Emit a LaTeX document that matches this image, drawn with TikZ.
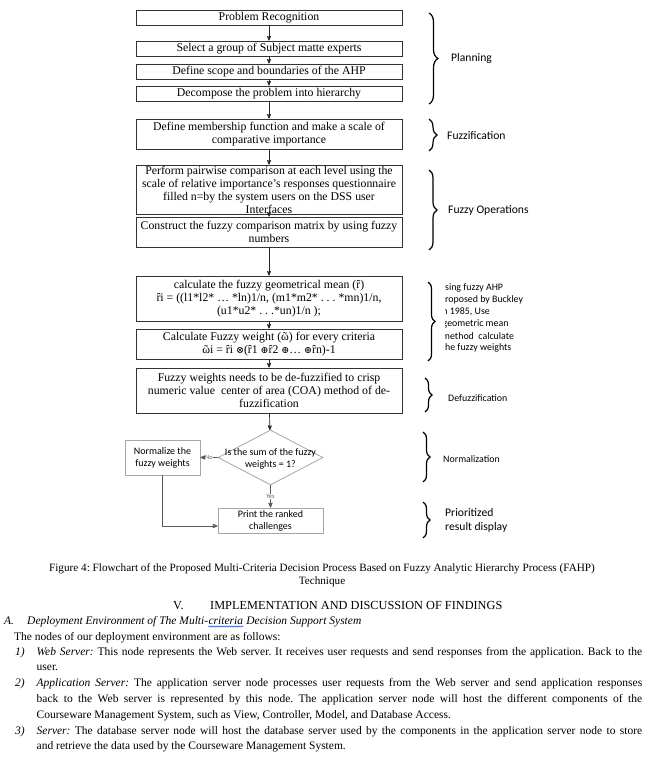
\documentclass[tikz,border=0pt]{standalone}
\usepackage{fontspec}
\setmainfont{Liberation Serif}
\newfontfamily\cali{Carlito}
\newfontfamily\symbfont{DejaVu Serif}
\usetikzlibrary{%
    arrows,shapes.geometric,%
    decorations.pathreplacing,decorations.pathmorphing
}
\frenchspacing

\tikzset{
  flowbox/.style={draw=black!80,line width=0.8pt,inner sep=0pt,minimum width=266pt,
    align=center,font=\fontsize{11.8}{13}\selectfont},
  greybox/.style={draw=black!35,line width=0.8pt,inner sep=0pt,align=center,
    font=\cali\fontsize{10}{12}\selectfont},
  flow/.style={->,>=stealth',line width=0.7pt,black!85},
  greyflow/.style={->,>=stealth',line width=0.8pt,black!65},
  phasebrace/.style={decorate,decoration={brace,amplitude=#1},line width=1.2pt},
  phase/.style={anchor=west,inner sep=0pt,font=\cali\fontsize{11.6}{14}\selectfont},
  smallphase/.style={anchor=west,inner sep=0pt,font=\cali\fontsize{9.9}{12}\selectfont},
  bodyline/.style={anchor=base west,inner sep=0pt,font=\fontsize{11.5}{16}\selectfont}
}
\newcommand{\otimesc}{{\symbfont\fontsize{9.5}{13}\selectfont ⊗}}
\newcommand{\oplusc}{{\symbfont\fontsize{9.5}{13}\selectfont ⊕}}

\begin{document}
\begin{tikzpicture}[x=1pt,y=-1pt]
\useasboundingbox[fill=white] (0,0) rectangle (665,757);

% flowchart
\node[flowbox,minimum height=15] (recog) at (269,17.5) {Problem Recognition};
\node[flowbox,minimum height=15] (experts) at (269,48.5) {Select a group of Subject matte experts};
\node[flowbox,minimum height=15] (scope) at (269,71.5) {Define scope and boundaries of the AHP};
\node[flowbox,minimum height=15] (hier) at (269,93.5) {Decompose the problem into hierarchy};
\node[flowbox,minimum height=30] (member) at (269,134) {Define membership function and make a scale of\\comparative importance};
\node[flowbox,minimum height=49,inner ysep=-4pt] (pairwise) at (269,189.5) {Perform pairwise comparison at each level using the\\scale of relative importance’s responses questionnaire\\filled n=by the system users on the DSS user\\Interfaces};
\node[flowbox,minimum height=30] (matrix) at (269,232) {Construct the fuzzy comparison matrix by using fuzzy\\numbers};
\node[flowbox,minimum height=45,inner ysep=-4pt] (geomean) at (269,298.5) {calculate the fuzzy geometrical mean (ȓ)\\ȓi = ((l1*l2* … *ln)1/n, (m1*m2* . . . *mn)1/n,\\(u1*u2* . . .*un)1/n );};
\node[flowbox,minimum height=30] (weight) at (269,344) {Calculate Fuzzy weight (ῶ) for every criteria\\ῶi = ȓi \otimesc(ȓ1 \oplusc ȓ2 \oplusc… \oplusc ȓn)-1};
\node[flowbox,minimum height=45,inner ysep=-4pt] (defuzz) at (269,390.5) {Fuzzy weights needs to be de-fuzzified to crisp\\numeric value\ \ center of area (COA) method of de-\\fuzzification};

\node[greybox,diamond,minimum width=105,minimum height=55,
  label={[align=center,font=\cali\fontsize{10}{12}\selectfont,yshift=-1.5pt]center:Is the sum of the fuzzy\\weights = 1?}] (check) at (270.5,457.5) {};
\node[greybox,minimum width=75,minimum height=35] (normal) at (162.5,457.5) {Normalize the\\fuzzy weights};
\node[greybox,minimum width=105,minimum height=25] (print) at (270.5,520.5) {Print the ranked\\challenges};

\draw[flow] (recog)--(experts);
\draw[flow] (experts)--(scope);
\draw[flow] (scope)--(hier);
\draw[flow] (hier)--(member);
\draw[flow] (member)--(pairwise);
\draw[flow] (pairwise)--(matrix);
\draw[flow] (matrix)--(geomean);
\draw[flow] (geomean)--(weight);
\draw[flow] (weight)--(defuzz);
\draw[flow] (defuzz)--(check);
\draw[greyflow] (check.west)--(normal.east) node[midway,fill=white,inner sep=0.5pt,font=\cali\fontsize{6.5}{6.5}\selectfont,text=black!60]{No};
\draw[greyflow] (check.south)--(print.north) node[midway,fill=white,inner sep=0.5pt,font=\cali\fontsize{6.5}{6.5}\selectfont,text=black!60]{Yes};
\draw[greyflow] (normal.south) |- ([yshift=-5.5pt]print.west);

% phases
\draw[phasebrace=9] (429,13)--(429,104);
\node[phase] (planning) at (451,58) {Planning};
\draw[phasebrace=8] (429,119)--(429,151);
\node[phase] (fuzzif) at (447,136) {Fuzzification};
\draw[phasebrace=8] (429,170)--(429,250);
\node[phase] (fuzzyops) at (448,210) {Fuzzy Operations};
\draw[phasebrace=7] (428,282)--(428,361);
\begin{scope}
\clip (445,278) rectangle (560,356);
\node[smallphase] (buck1) at (438.6,288) {Using fuzzy AHP};
\node[smallphase] (buck2) at (439.7,300) {proposed by Buckley};
\node[smallphase] (buck3) at (440,312) {in 1985, Use};
\node[smallphase] (buck4) at (442.5,324) {geometric mean};
\node[smallphase] (buck5) at (442,336) {method\ \ calculate};
\node[smallphase] (buck6) at (441.6,348) {the fuzzy weights};
\end{scope}
\draw[phasebrace=7] (425,378)--(425,412);
\node[smallphase] (defuzzlab) at (448,398) {Defuzzification};
\draw[phasebrace=7] (423,432)--(423,482);
\node[smallphase] (normlab) at (443,459) {Normalization};
\draw[phasebrace=7] (423,502)--(423,538);
\node[phase,align=left] (prio) at (445,520) {Prioritized\\result display};

% caption and text
\node[anchor=base,inner sep=0pt,font=\fontsize{11.2}{14}\selectfont] (caption) at (322,571) {Figure 4: Flowchart of the Proposed Multi-Criteria Decision Process Based on Fuzzy Analytic Hierarchy Process (FAHP)};
\node[anchor=base,inner sep=0pt,font=\fontsize{11.2}{14}\selectfont] (caption2) at (322,584) {Technique};
\node[bodyline,font=\fontsize{12.3}{16}\selectfont] (secnum) at (173,609) {V.};
\node[bodyline,font=\fontsize{12.3}{16}\selectfont] (sectitle) at (210,609) {IMPLEMENTATION AND DISCUSSION OF FINDINGS};
\node[bodyline,font=\itshape\fontsize{11.5}{16}\selectfont] (subnum) at (4,624) {A.};
\node[bodyline,font=\itshape\fontsize{11.5}{16}\selectfont] (subtitle) at (27,624) {Deployment Environment of The Multi-};
\node[bodyline,font=\itshape\fontsize{11.5}{16}\selectfont] (crit) at (subtitle.base east) {criteria};
\node[bodyline,font=\itshape\fontsize{11.5}{16}\selectfont] (subrest) at (crit.base east) {\ Decision Support System};
\draw[blue!70!cyan,line width=0.5pt,decorate,decoration={snake,amplitude=0.7pt,segment length=2.5pt}]
  ([yshift=-2.5pt]crit.base west)--([yshift=-2.5pt]crit.base east);

\node[bodyline] (intro) at (14,640) {The nodes of our deployment environment are as follows:};
\node[bodyline] (num1) at (15,655) {\textit{1)}};
\node[bodyline] (web) at (36.5,655) {\makebox[605.5pt][s]{\textit{Web Server:} This node represents the Web server. It receives user requests and send responses from the application. Back to the}};
\node[bodyline] (web2) at (36.5,670) {user.};
\node[bodyline] (num2) at (15,686) {\textit{2)}};
\node[bodyline] (app) at (36.5,686) {\makebox[605.5pt][s]{\textit{Application Server:} The application server node processes user requests from the Web server and send application responses}};
\node[bodyline] (app2) at (36.5,702) {\makebox[605.5pt][s]{back to the Web server is represented by this node. The application server node will host the different components of the}};
\node[bodyline] (app3) at (36.5,718) {Courseware Management System, such as View, Controller, Model, and Database Access.};
\node[bodyline] (num3) at (15,734) {\textit{3)}};
\node[bodyline] (db) at (36.5,734) {\makebox[605.5pt][s]{\textit{Server:} The database server node will host the database server used by the components in the application server node to store}};
\node[bodyline] (db2) at (36.5,749) {and retrieve the data used by the Courseware Management System.};

\end{tikzpicture}
\end{document}
